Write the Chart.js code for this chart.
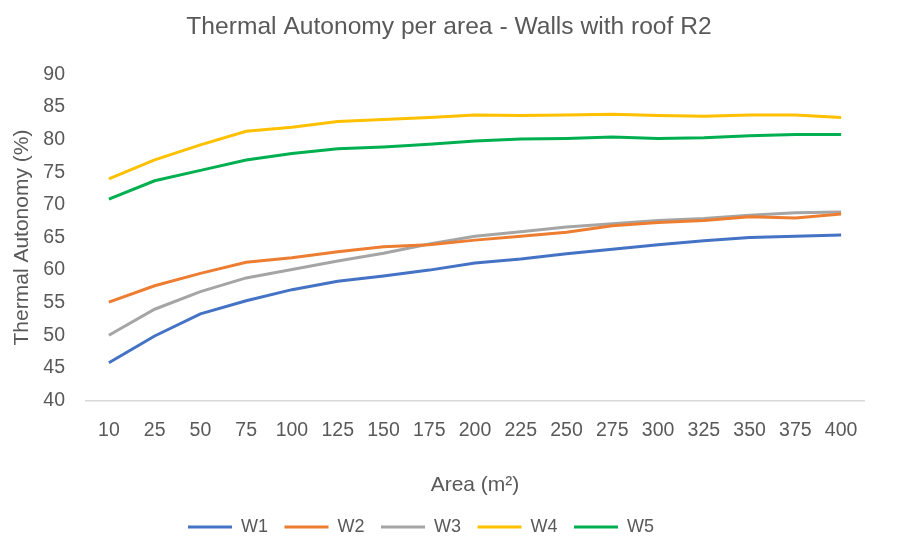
<!DOCTYPE html>
<html>
<head>
<meta charset="utf-8">
<script src="https://cdn.jsdelivr.net/npm/chart.js@4"></script>
<style>
  html, body { margin: 0; padding: 0; background: #ffffff; }
  #wrap { width: 898px; height: 536px; }
</style>
</head>
<body>
<div id="wrap"><canvas id="c" width="898" height="536"></canvas></div>
<script>
const categories = ["10","25","50","75","100","125","150","175","200","225","250","275","300","325","350","375","400"];
const W1 = [45.8, 49.9, 53.3, 55.3, 57.0, 58.3, 59.1, 60.0, 61.1, 61.7, 62.5, 63.2, 63.9, 64.5, 65.0, 65.2, 65.4];
const W2 = [55.1, 57.6, 59.5, 61.2, 61.9, 62.8, 63.6, 63.9, 64.6, 65.2, 65.8, 66.8, 67.3, 67.6, 68.2, 68.0, 68.6];
const W3 = [50.0, 54.0, 56.7, 58.8, 60.1, 61.4, 62.6, 64.0, 65.2, 65.9, 66.6, 67.1, 67.6, 67.9, 68.4, 68.8, 68.9];
const W4 = [74.0, 76.9, 79.2, 81.3, 81.9, 82.8, 83.1, 83.4, 83.8, 83.7, 83.8, 83.9, 83.7, 83.6, 83.8, 83.8, 83.4];
const W5 = [70.9, 73.7, 75.3, 76.9, 77.9, 78.6, 78.9, 79.3, 79.8, 80.1, 80.2, 80.4, 80.2, 80.3, 80.6, 80.8, 80.8];
const seriesNames = ["W1","W2","W3","W4","W5"];
const yTicks = [40, 45, 50, 55, 60, 65, 70, 75, 80, 85, 90];

const colors = ["#4472C4", "#ED7D31", "#A5A5A5", "#FFC000", "#00B050"];
const FONT = "'Liberation Sans', Arial, sans-serif";
const TXT = "#595959";

const series = [W1, W2, W3, W4, W5];
const datasets = series.map((d, i) => ({
  label: seriesNames[i],
  data: d,
  borderColor: colors[i],
  backgroundColor: colors[i],
  borderWidth: 3,
  pointRadius: 0,
  pointHoverRadius: 0,
  tension: 0,
  fill: false
}));

// shift the full-width title/legend boxes horizontally to match the reference centering
const shiftBoxes = {
  id: 'shiftBoxes',
  afterLayout(chart) {
    if (chart.titleBlock) { chart.titleBlock.left += 17; chart.titleBlock.right += 17; }
    if (chart.legend) { chart.legend.left -= 11; chart.legend.right -= 11; }
  }
};

new Chart(document.getElementById('c'), {
  type: 'line',
  data: { labels: categories, datasets },
  plugins: [shiftBoxes],
  options: {
    responsive: false,
    animation: false,
    devicePixelRatio: 1,
    layout: { padding: { left: 0, right: 34, top: 0, bottom: -10 } },
    plugins: {
      title: {
        display: true,
        text: "Thermal Autonomy per area - Walls with roof R2",
        color: TXT,
        font: { family: FONT, size: 24.6, weight: 'normal' },
        padding: { top: 12.3, bottom: 32.7 }
      },
      legend: {
        position: 'bottom',
        labels: {
          color: TXT,
          font: { family: FONT, size: 18 },
          boxWidth: 44,
          boxHeight: 3,
          padding: 16.5,
          generateLabels: (chart) => Chart.defaults.plugins.legend.labels.generateLabels(chart).map(it => Object.assign(it, { lineWidth: 0 }))
        }
      },
      tooltip: { enabled: false }
    },
    scales: {
      x: {
        offset: true,
        afterFit: (s) => { s.height = 101; },
        grid: { display: false },
        border: { display: true, color: '#D9D9D9', width: 1.5 },
        ticks: { color: TXT, font: { family: FONT, size: 19.5 }, maxRotation: 0, autoSkip: false, padding: 10 },
        title: { display: true, text: "Area (m²)", color: TXT, font: { family: FONT, size: 21 }, padding: { top: 20, bottom: 4 } }
      },
      y: {
        min: 40, max: 90,
        afterFit: (s) => { s.width = 86; },
        afterBuildTicks: (s) => { s.ticks = yTicks.map(v => ({ value: v })); },
        grid: { display: false },
        border: { display: false },
        ticks: { color: TXT, font: { family: FONT, size: 19.5 }, padding: 13 },
        title: { display: true, text: "Thermal Autonomy (%)", color: TXT, font: { family: FONT, size: 21 }, padding: { top: 10, bottom: 0 } }
      }
    }
  }
});
</script>
</body>
</html>
